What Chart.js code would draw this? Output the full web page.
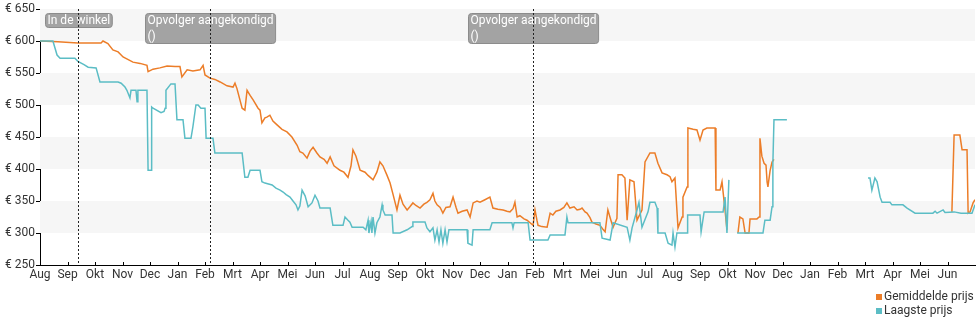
<!DOCTYPE html>
<html lang="nl">
<head>
<meta charset="UTF-8">
<title>Prijsverloop</title>
<script src="https://cdn.jsdelivr.net/npm/chart.js"></script>
<style>
  html, body { margin: 0; padding: 0; background: #fff; }
  #wrap { width: 980px; height: 325px; }
</style>
</head>
<body>
<div id="wrap"><canvas id="priceChart" width="980" height="325"></canvas></div>
<script>
  // month ticks (the source chart skips one "Apr")
  const monthLabels = ["Aug","Sep","Okt","Nov","Dec","Jan","Feb","Mrt","Apr","Mei","Jun","Jul",
    "Aug","Sep","Okt","Nov","Dec","Jan","Feb","Mrt","Mei","Jun","Jul",
    "Aug","Sep","Okt","Nov","Dec","Jan","Feb","Mrt","Apr","Mei","Jun"];
  const yTicks = [250, 300, 350, 400, 450, 500, 550, 600, 650];
  const seriesNames = ["Gemiddelde prijs", "Laagste prijs"];

  // [month position, price]; null = no data
  const avgPrice = [
    [0,600],[0.65,599],[1.38,597],[2.22,597],[2.29,600],[2.47,596],[2.65,586],[2.84,583],[3.02,575],
    [3.38,567],[3.64,565],[3.89,562],[3.93,552],[4.11,556],[4.36,558],[4.62,561],[4.91,560],[5.09,560],
    [5.16,544],[5.35,555],[5.56,553],[5.82,555],[5.93,562],[6.0,547],[6.18,542],[6.36,540],[6.55,536],
    [6.8,530],[7.02,528],[7.09,534],[7.16,526],[7.27,508],[7.35,495],[7.45,492],[7.53,523],[7.64,515],
    [7.75,508],[7.82,503],[7.93,495],[8.0,492],[8.07,472],[8.18,480],[8.25,481],[8.36,484],[8.47,475],
    [8.62,469],[8.8,462],[8.98,458],[9.16,450],[9.35,437],[9.45,427],[9.56,425],[9.71,417],[9.82,428],
    [9.93,434],[10.07,425],[10.18,419],[10.33,415],[10.44,409],[10.55,419],[10.69,405],[10.91,398],
    [11.05,395],[11.2,387],[11.31,405],[11.38,430],[11.49,420],[11.64,398],[11.82,395],[11.93,390],
    [12.11,383],[12.25,395],[12.36,411],[12.47,405],[12.62,390],[12.73,378],[12.84,360],[12.98,336],
    [13.09,359],[13.2,345],[13.35,336],[13.45,341],[13.56,347],[13.67,343],[13.82,339],[13.96,345],
    [14.07,348],[14.18,352],[14.29,362],[14.36,350],[14.44,344],[14.55,340],[14.65,331],[14.76,340],
    [14.91,341],[15.02,356],[15.13,340],[15.2,331],[15.35,334],[15.53,336],[15.64,325],[15.75,347],
    [15.89,350],[16.0,348],[16.18,352],[16.36,356],[16.47,339],[16.65,337],[16.84,336],[16.98,334],
    [17.09,333],[17.2,338],[17.27,348],[17.35,325],[17.45,327],[17.6,322],[17.71,320],[17.82,316],
    [17.93,312],[18.0,336],[18.07,320],[18.11,312],[18.25,310],[18.44,309],[18.55,331],[18.65,328],
    [18.76,334],[18.91,336],[19.05,340],[19.16,347],[19.27,339],[19.42,341],[19.53,336],[19.64,337],
    [19.71,339],[19.82,333],[19.89,331],[20.0,324],[20.07,317],[20.22,314],[20.36,312],[20.47,306],
    [20.55,302],[20.65,336],[20.76,320],[20.84,309],[20.91,316],[20.98,323],[21.02,391],[21.16,391],
    [21.27,386],[21.35,320],[21.45,383],[21.6,380],[21.71,320],[21.89,336],[22.0,411],[22.18,425],
    [22.36,425],[22.47,409],[22.62,394],[22.8,391],[22.91,388],[22.98,380],[23.09,386],[23.16,336],
    [23.2,308],[23.35,325],[23.38,356],[23.53,372],[23.56,464],[23.75,462],[23.89,461],[24.0,445],
    [24.11,461],[24.25,464],[24.55,464],[24.58,367],[24.73,367],[24.8,380],[24.91,336],[24.98,305],
    [25.2,null],
    [25.38,300],[25.45,325],[25.56,322],[25.64,300],[25.78,300],[25.82,322],[26.07,322],[26.15,325],
    [26.18,448],[26.25,420],[26.33,409],[26.4,406],[26.44,380],[26.47,372],[26.55,398],[26.62,411],
    [26.69,415],
    [28.0,null],
    [33.16,333],[33.24,453],[33.45,453],[33.53,430],[33.71,430],[33.75,331],[33.82,333],[33.93,347],
    [34.0,352]
  ];

  const lowPrice = [
    [0,600],[0.47,600],[0.62,578],[0.73,573],[1.27,573],[1.38,568],[1.6,563],[1.75,559],[2.04,558],
    [2.18,536],[2.84,536],[2.95,534],[3.09,528],[3.16,523],[3.27,511],[3.31,523],[3.49,523],[3.53,505],
    [3.56,523],[3.89,523],[3.93,398],[4.04,398],[4.06,497],[4.11,495],[4.4,488],[4.51,490],[4.55,495],
    [4.58,523],[4.76,533],[4.91,533],[4.98,477],[5.2,477],[5.27,448],[5.49,448],[5.56,466],[5.67,500],
    [5.75,500],[5.85,495],[6.0,495],[6.04,448],[6.29,448],[6.36,425],[7.35,425],[7.45,387],[7.56,387],
    [7.64,398],[8.0,398],[8.07,380],[8.18,378],[8.44,375],[8.58,370],[8.73,367],[8.84,364],[8.95,360],
    [9.09,356],[9.2,350],[9.31,344],[9.38,336],[9.45,342],[9.53,367],[9.64,358],[9.75,341],[9.89,347],
    [10.0,359],[10.11,350],[10.18,339],[10.55,339],[10.65,312],[11.02,312],[11.09,325],[11.2,320],
    [11.27,317],[11.35,309],[11.75,309],[11.85,305],[11.93,320],[11.96,300],[12.04,318],[12.07,300],
    [12.11,325],[12.18,300],[12.25,316],[12.36,325],[12.44,344],[12.47,336],[12.55,328],[12.8,328],
    [12.84,300],[13.09,300],[13.35,305],[13.53,310],[13.56,317],[14.0,317],[14.07,308],[14.18,302],
    [14.29,308],[14.36,289],[14.44,305],[14.51,286],[14.58,305],[14.65,284],[14.73,305],[14.8,286],
    [14.87,305],[15.53,305],[15.56,284],[15.71,281],[15.75,305],[16.36,305],[16.44,316],[17.16,316],
    [17.2,308],[17.24,316],[17.75,316],[17.82,289],[18.47,289],[18.55,297],[19.09,297],[19.16,325],
    [19.2,316],[20.36,316],[20.44,292],[20.73,289],[20.84,316],[21.35,309],[21.45,289],[21.53,308],
    [21.71,336],[21.78,348],[21.89,309],[22.11,333],[22.18,348],[22.36,348],[22.44,339],[22.47,300],
    [22.73,300],[22.84,284],[22.98,281],[23.02,300],[23.09,278],[23.16,300],[23.53,300],[23.55,328],
    [24.0,328],[24.04,302],[24.15,333],[24.84,333],[24.91,356],[24.98,300],[25.05,383],
    [25.2,null],
    [25.35,300],[26.29,300],[26.36,320],[26.55,320],[26.62,341],[26.65,409],[26.69,477],[27.16,477],
    [28.0,null],
    [30.11,386],[30.18,386],[30.25,367],[30.36,386],[30.44,380],[30.55,356],[30.62,348],[30.91,348],
    [30.98,344],[31.38,344],[31.53,339],[31.82,331],[32.47,331],[32.55,334],[32.62,331],[32.84,336],
    [32.91,332],[33.24,333],[33.49,331],[33.89,331],[34.0,344]
  ];

  // events: position on the month axis and box text
  const eventPos = [1.38, 6.18, 17.93];
  const eventText = [["In de winkel"], ["Opvolger aangekondigd", "()"], ["Opvolger aangekondigd", "()"]];

  const orange = "#ec7d28";
  const teal = "#5bbdc5";
  const FONT = "Roboto, 'Noto Sans', sans-serif";

  function toPoints(arr) {
    return arr.map(p => ({ x: p[0], y: p[1] }));
  }

  // light bands behind the plot
  const bandPlugin = {
    id: "bands",
    beforeDatasetsDraw(chart) {
      const { ctx, chartArea, scales } = chart;
      ctx.save();
      ctx.fillStyle = "#f6f6f6";
      for (let i = 1; i < yTicks.length - 1; i += 2) {
        const top = scales.y.getPixelForValue(yTicks[i + 1]);
        const bot = scales.y.getPixelForValue(yTicks[i]);
        ctx.fillRect(chartArea.left, top, chartArea.right - chartArea.left, bot - top);
      }
      ctx.restore();
    }
  };

  // event boxes, dotted lines, inward x ticks and legend
  const extrasPlugin = {
    id: "extras",
    afterDatasetsDraw(chart) {
      const { ctx, chartArea, scales } = chart;
      ctx.save();
      ctx.font = "12px " + FONT;
      eventPos.forEach((pos, i) => {
        const x = scales.x.getPixelForValue(pos);
        const lines = eventText[i];
        const w = Math.max(...lines.map(t => ctx.measureText(t).width)) + 4;
        const h = lines.length * 16 - 2;
        const bx = Math.round(x - w / 2) + 0.5, by = chartArea.top + 4.5;
        ctx.fillStyle = "#a3a3a3";
        ctx.strokeStyle = "#8c8c8c";
        ctx.lineWidth = 1;
        ctx.beginPath();
        ctx.roundRect(bx, by, w, h, 3);
        ctx.fill();
        ctx.stroke();
        ctx.fillStyle = "#fff";
        ctx.textBaseline = "top";
        lines.forEach((t, j) => ctx.fillText(t, bx + 2, by + 1 + j * 16));
      });
      ctx.strokeStyle = "#222";
      ctx.lineWidth = 1;
      ctx.setLineDash([2, 2]);
      eventPos.forEach(pos => {
        const x = Math.round(scales.x.getPixelForValue(pos)) + 0.5;
        ctx.beginPath();
        ctx.moveTo(x, chartArea.top);
        ctx.lineTo(x, chartArea.bottom);
        ctx.stroke();
      });
      ctx.setLineDash([]);
      ctx.strokeStyle = "#000";
      monthLabels.forEach((m, i) => {
        const x = Math.round(scales.x.getPixelForValue(i)) + 0.5;
        ctx.beginPath();
        ctx.moveTo(x, chartArea.bottom);
        ctx.lineTo(x, chartArea.bottom - 3);
        ctx.stroke();
      });
      ctx.restore();
    },
    afterDraw(chart) {
      const ctx = chart.ctx;
      ctx.save();
      ctx.font = "12px " + FONT;
      ctx.textBaseline = "middle";
      [orange, teal].forEach((c, i) => {
        const y = 297 + i * 14;
        ctx.fillStyle = c;
        ctx.fillRect(876, y - 3, 6, 6);
        ctx.fillStyle = "#333";
        ctx.fillText(seriesNames[i], 884, y);
      });
      ctx.restore();
    }
  };

  const ctx = document.getElementById("priceChart").getContext("2d");
  new Chart(ctx, {
    type: "line",
    data: {
      datasets: [
        {
          label: seriesNames[1],
          data: toPoints(lowPrice),
          borderColor: teal,
          borderWidth: 1.5,
          pointRadius: 0,
          tension: 0,
          spanGaps: false,
          order: 0
        },
        {
          label: seriesNames[0],
          data: toPoints(avgPrice),
          borderColor: orange,
          borderWidth: 1.5,
          pointRadius: 0,
          tension: 0,
          spanGaps: false,
          order: 1
        }
      ]
    },
    options: {
      responsive: false,
      animation: false,
      devicePixelRatio: 1,
      layout: { padding: { top: 9, right: 5, bottom: 40, left: 0 } },
      plugins: { legend: { display: false }, tooltip: { enabled: false } },
      scales: {
        x: {
          type: "linear",
          min: 0,
          max: 34,
          afterBuildTicks(scale) {
            scale.ticks = monthLabels.map((m, i) => ({ value: i }));
          },
          afterFit(scale) { scale.height = 20; },
          ticks: {
            autoSkip: false,
            maxRotation: 0,
            padding: 3,
            color: "#333",
            font: { family: FONT, size: 12 },
            callback: (v) => monthLabels[v]
          },
          grid: { drawOnChartArea: false, drawTicks: false },
          border: { color: "#000", width: 1 }
        },
        y: {
          min: 250,
          max: 650,
          afterBuildTicks(scale) {
            scale.ticks = yTicks.map(v => ({ value: v }));
          },
          afterFit(scale) { scale.width = 40; },
          ticks: {
            padding: 1,
            color: "#333",
            font: { family: FONT, size: 12 },
            callback: (v) => "€ " + v
          },
          grid: { drawOnChartArea: false, drawTicks: true, tickLength: 4, color: "#000" },
          border: { color: "#000", width: 1 }
        }
      }
    },
    plugins: [bandPlugin, extrasPlugin]
  });
</script>
</body>
</html>
